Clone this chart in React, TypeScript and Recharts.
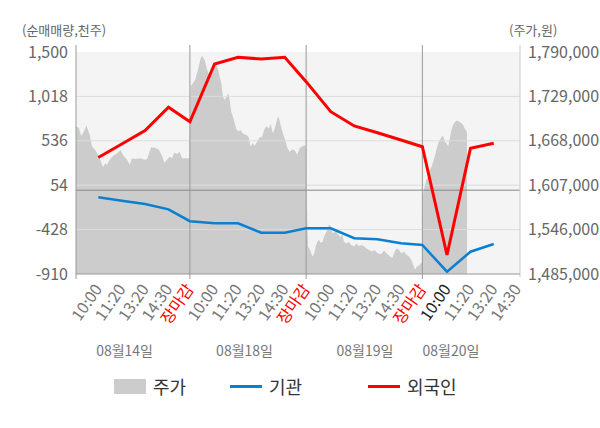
import React from 'react';
import {
    ComposedChart, Area, Line, XAxis, YAxis, CartesianGrid, ReferenceLine, Legend,
} from 'recharts';

// x is measured in label slots: every session is 5 slots wide (10:00 .. 장마감)
const timeLabels = ['10:00', '11:20', '13:20', '14:30', '장마감'];
const timeSlots = [1.06, 2.07, 3.07, 4.08, 5];
const dayLabels = ['08월14일', '08월18일', '08월19일', '08월20일'];
const dayLabelSlots = [2.19, 7.35, 12.53, 16.23];
const flowTicks = [1500, 1018, 536, 54, -428, -910];
const priceTicks = [1790000, 1729000, 1668000, 1607000, 1546000, 1485000];

// net buying, thousand shares (외국인 / 기관)
const foreignNet = [355, 501, 646, 900, 743, 1370, 1442, 1424, 1442, 1178, 852, 697, 624, 545, 472, -704, 455, 509];
const institutionNet = [-77, -114, -150, -208, -337, -360, -360, -462, -462, -414, -414, -522, -533, -577, -595, -885, -668, -584];

// intraday price, [slot, won]
const price0814 = [
    [0.1, 1688000], [0.22, 1686000], [0.32, 1675000], [0.4, 1678000], [0.55, 1689000], [0.69, 1676000],
    [0.79, 1660000], [0.93, 1655000], [1.08, 1647000], [1.26, 1632000], [1.36, 1637000], [1.43, 1635000],
    [1.55, 1642000], [1.69, 1647000], [1.87, 1651000], [2.01, 1655000], [2.15, 1647000], [2.3, 1642000],
    [2.41, 1635000], [2.51, 1644000], [2.65, 1643000], [2.87, 1644000], [3.04, 1642000], [3.16, 1643000],
    [3.33, 1659000], [3.52, 1658000], [3.66, 1656000], [3.8, 1647000], [3.9, 1638000], [4.02, 1642000],
    [4.13, 1646000], [4.23, 1644000], [4.33, 1652000], [4.45, 1650000], [4.56, 1653000], [4.66, 1644000],
    [4.81, 1644000], [4.98, 1644000],
];
const price0818 = [
    [5.03, 1743000], [5.13, 1747000], [5.23, 1752000], [5.34, 1765000], [5.46, 1781000], [5.53, 1785000],
    [5.63, 1779000], [5.75, 1765000], [5.85, 1756000], [5.95, 1765000], [6.06, 1774000], [6.18, 1770000],
    [6.28, 1756000], [6.35, 1747000], [6.42, 1729000], [6.49, 1724000], [6.61, 1731000], [6.66, 1733000],
    [6.71, 1724000], [6.78, 1708000], [6.89, 1697000], [6.99, 1685000], [7.07, 1681000], [7.18, 1683000],
    [7.28, 1678000], [7.43, 1676000], [7.53, 1673000], [7.61, 1660000], [7.71, 1665000], [7.78, 1661000],
    [7.9, 1667000], [8.0, 1673000], [8.1, 1673000], [8.19, 1683000], [8.29, 1688000], [8.39, 1685000],
    [8.47, 1691000], [8.57, 1678000], [8.67, 1687000], [8.76, 1699000], [8.82, 1701000], [8.9, 1690000],
    [9.0, 1678000], [9.1, 1669000], [9.19, 1658000], [9.29, 1653000], [9.39, 1656000], [9.51, 1655000],
    [9.62, 1649000], [9.72, 1658000], [9.82, 1660000], [9.94, 1662000], [9.99, 1660000],
];
const price0819 = [
    [10.02, 1591000], [10.08, 1523000], [10.17, 1518000], [10.27, 1509000], [10.34, 1513000], [10.41, 1523000],
    [10.48, 1529000], [10.55, 1532000], [10.62, 1528000], [10.7, 1529000], [10.8, 1539000], [10.88, 1543000],
    [10.98, 1553000], [11.05, 1551000], [11.13, 1541000], [11.2, 1542000], [11.27, 1545000], [11.34, 1541000],
    [11.46, 1536000], [11.56, 1539000], [11.63, 1529000], [11.74, 1527000], [11.84, 1529000], [11.94, 1525000],
    [12.06, 1523000], [12.17, 1527000], [12.27, 1523000], [12.37, 1525000], [12.49, 1523000], [12.6, 1520000],
    [12.7, 1518000], [12.85, 1516000], [12.95, 1518000], [13.06, 1514000], [13.21, 1512000], [13.35, 1517000],
    [13.47, 1513000], [13.61, 1509000], [13.71, 1507000], [13.81, 1516000], [13.9, 1520000], [14.0, 1518000],
    [14.1, 1513000], [14.21, 1516000], [14.33, 1511000], [14.43, 1509000], [14.53, 1504000], [14.61, 1497000],
    [14.69, 1491000], [14.76, 1495000], [14.86, 1497000], [14.96, 1500000], [14.99, 1501000],
];
const price0820 = [
    [15.03, 1596000], [15.17, 1614000], [15.25, 1619000], [15.32, 1628000], [15.39, 1632000], [15.46, 1639000],
    [15.53, 1646000], [15.6, 1655000], [15.68, 1665000], [15.75, 1669000], [15.82, 1673000], [15.89, 1675000],
    [15.96, 1667000], [16.03, 1665000], [16.11, 1660000], [16.18, 1671000], [16.25, 1683000], [16.32, 1690000],
    [16.39, 1693000], [16.47, 1696000], [16.54, 1695000], [16.61, 1694000], [16.68, 1692000], [16.75, 1690000],
    [16.82, 1685000], [16.9, 1681000], [16.92, 1678000],
];

const X_DOMAIN = [0.1, 19.2];
const FLOW_DOMAIN = [-910, 1500];
const dayBreaks = [0.1, 5, 10, 15];
const TX = 'a_time';
const DX = 'b_day';

const priceRows = [price0814, price0818, price0819, price0820].flat().map(([x, price]) => ({ x, price }));
const slotOf = (i: number) => Math.floor(i / 5) * 5 + timeSlots[i % 5];
const flowRows = foreignNet.map((v, i) => ({ x: slotOf(i), foreign: v, institution: institutionNet[i] }));
const timeTicks = Array.from({ length: 19 }, (_, i) => slotOf(i));
const font = '"Noto Sans CJK KR", "Noto Sans", sans-serif';

const TimeTick = (props: any) => {
    const { x, y, payload } = props;
    const i = timeTicks.findIndex((t) => Math.abs(t - payload.value) < 0.001);
    const label = timeLabels[i % 5];
    const color = label === '장마감' ? '#ff0000' : i === 15 ? '#222' : '#777';
    return (
        <g transform={`translate(${x},${y + 4})`}>
            <text textAnchor="end" dy="0.35em" transform="rotate(-55)" fill={color} fontSize={16} fontFamily={font}>
                {label}
            </text>
        </g>
    );
};

const legendItems = [
    { name: '주가', color: '#cccccc', box: true, left: 114 },
    { name: '기관', color: '#0b7fd0', box: false, left: 230 },
    { name: '외국인', color: '#ff0000', box: false, left: 368 },
];

const LegendBox = () => (
    <div style={{ position: 'relative', width: 600, height: 28, fontFamily: font }}>
        {legendItems.map((it) => (
            <div key={it.name} style={{ position: 'absolute', left: it.left, top: 0, height: 28, display: 'flex', alignItems: 'center' }}>
                <span style={{ display: 'inline-block', width: 32, height: it.box ? 15 : 3, background: it.color }} />
                <span style={{ marginLeft: 7, fontSize: 18, color: '#333' }}>{it.name}</span>
            </div>
        ))}
    </div>
);

export default function App() {
    return (
        <div style={{ position: 'absolute', left: 0, top: 0, width: 600, height: 428, background: '#fff', fontFamily: font }}>
            <div style={{ position: 'absolute', left: 22, top: 22, fontSize: 13, lineHeight: '16px', color: '#666' }}>(순매매량,천주)</div>
            <div style={{ position: 'absolute', left: 509, top: 22, fontSize: 13, lineHeight: '16px', color: '#666' }}>(주가,원)</div>
            <ComposedChart width={600} height={428} margin={{ top: 52, right: 0, bottom: 60, left: 0 }}>
                <CartesianGrid fill="#f4f4f4" horizontal={false} vertical={false} xAxisId={TX} yAxisId="flow" />
                <XAxis
                    xAxisId={TX} type="number" dataKey="x" domain={X_DOMAIN} allowDataOverflow
                    ticks={timeTicks} interval={0} tick={<TimeTick />} tickLine={false}
                    axisLine={{ stroke: '#999' }} height={64}
                />
                <XAxis
                    xAxisId={DX} type="number" dataKey="x" domain={X_DOMAIN} allowDataOverflow
                    ticks={dayLabelSlots} interval={0} tickFormatter={(v: number) => dayLabels[dayLabelSlots.indexOf(v)]}
                    tick={{ fill: '#777', fontSize: 14, fontFamily: font }} tickLine={false} axisLine={false} height={30}
                />
                <YAxis
                    yAxisId="flow" orientation="left" width={76} domain={FLOW_DOMAIN} allowDataOverflow
                    ticks={flowTicks} interval={0} tickFormatter={(v: number) => v.toLocaleString('en-US')}
                    tick={{ fill: '#666', fontSize: 16, fontFamily: font }} tickLine={false} axisLine={false}
                />
                <YAxis
                    yAxisId="price" orientation="right" width={80} domain={[1485000, 1790000]} allowDataOverflow
                    ticks={priceTicks} interval={0} tickFormatter={(v: number) => v.toLocaleString('en-US')}
                    tick={{ fill: '#666', fontSize: 16, fontFamily: font }} tickLine={false} axisLine={false}
                />
                <Area
                    data={priceRows} xAxisId={TX} yAxisId="price" dataKey="price" name="주가" type="linear"
                    stroke="none" fill="#cccccc" fillOpacity={1} isAnimationActive={false} dot={false} activeDot={false}
                />
                {[1018, 536, 54, -428].map((v) => (
                    <ReferenceLine key={v} xAxisId={TX} yAxisId="flow" y={v} stroke="#dddddd" strokeWidth={1} />
                ))}
                <ReferenceLine xAxisId={TX} yAxisId="flow" y={0} stroke="#888" strokeWidth={1} />
                {dayBreaks.map((b) => (
                    <ReferenceLine
                        key={b} xAxisId={TX} yAxisId="flow" ifOverflow="visible" stroke="#999" strokeWidth={1}
                        segment={[{ x: b, y: -964 }, { x: b, y: 1576 }]}
                    />
                ))}
                <ReferenceLine
                    xAxisId={TX} yAxisId="flow" ifOverflow="visible" stroke="#cccccc" strokeWidth={1}
                    segment={[{ x: X_DOMAIN[1], y: -942 }, { x: X_DOMAIN[1], y: 1576 }]}
                />
                <Line
                    data={flowRows} xAxisId={TX} yAxisId="flow" dataKey="institution" name="기관" type="linear"
                    stroke="#0b7fd0" strokeWidth={2.5} dot={false} activeDot={false} isAnimationActive={false}
                />
                <Line
                    data={flowRows} xAxisId={TX} yAxisId="flow" dataKey="foreign" name="외국인" type="linear"
                    stroke="#ff0000" strokeWidth={3} dot={false} activeDot={false} isAnimationActive={false}
                />
                <Legend
                    layout="horizontal" verticalAlign="middle" align="center"
                    wrapperStyle={{ top: 372, left: 0, width: 600, height: 28 }}
                    content={() => <LegendBox />}
                />
            </ComposedChart>
        </div>
    );
}
